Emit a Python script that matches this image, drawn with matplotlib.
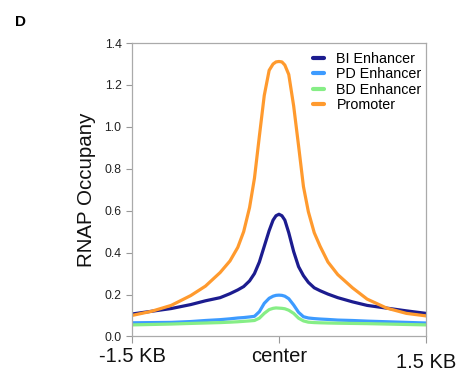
import matplotlib
matplotlib.use("Agg")
import matplotlib.pyplot as plt
from matplotlib.transforms import blended_transform_factory

plt.rcParams['font.family'] = ['Liberation Sans', 'DejaVu Sans']

# positions relative to center (kb)
x_kb = [-1.5, -1.3, -1.1, -0.9, -0.75, -0.6, -0.5, -0.42, -0.36, -0.3, -0.25, -0.2, -0.15, -0.1, -0.06, -0.03,
        0.0, 0.03, 0.06, 0.1, 0.15, 0.2, 0.25, 0.3, 0.36, 0.42, 0.5, 0.6, 0.75, 0.9, 1.1, 1.3, 1.5]

bi_enhancer = [0.107, 0.12, 0.133, 0.152, 0.17, 0.185, 0.204, 0.222, 0.238, 0.265, 0.30, 0.355, 0.43, 0.505, 0.555, 0.576,
               0.583, 0.576, 0.555, 0.495, 0.405, 0.333, 0.29, 0.258, 0.232, 0.218, 0.202, 0.185, 0.165, 0.148, 0.135, 0.122, 0.11]
pd_enhancer = [0.065, 0.066, 0.067, 0.071, 0.076, 0.08, 0.084, 0.088, 0.09, 0.093, 0.096, 0.118, 0.158, 0.182, 0.192, 0.196,
               0.197, 0.196, 0.192, 0.18, 0.15, 0.115, 0.094, 0.088, 0.085, 0.083, 0.081, 0.078, 0.076, 0.073, 0.07, 0.067, 0.064]
bd_enhancer = [0.055, 0.057, 0.059, 0.062, 0.064, 0.066, 0.068, 0.07, 0.072, 0.074, 0.076, 0.087, 0.11, 0.128, 0.134, 0.136,
               0.135, 0.134, 0.132, 0.125, 0.11, 0.087, 0.074, 0.068, 0.066, 0.065, 0.064, 0.063, 0.062, 0.061, 0.059, 0.057, 0.055]
promoter = [0.10, 0.12, 0.148, 0.195, 0.24, 0.305, 0.36, 0.425, 0.50, 0.615, 0.755, 0.955, 1.15, 1.27, 1.30, 1.31,
            1.312, 1.31, 1.295, 1.25, 1.10, 0.91, 0.715, 0.595, 0.495, 0.43, 0.355, 0.295, 0.232, 0.178, 0.135, 0.11, 0.098]

series_names = ["BI Enhancer", "PD Enhancer", "BD Enhancer", "Promoter"]
series_colors = ["#1c1c8f", "#3d9bff", "#86ee86", "#ff9a2e"]

xtick_pos = [-1.5, 0.0, 1.5]
xtick_labels = ["-1.5 KB", "center", "1.5 KB"]
ytick_vals = [0.0, 0.2, 0.4, 0.6, 0.8, 1.0, 1.2, 1.4]

fig = plt.figure(figsize=(4.63, 3.81), dpi=100)
ax = fig.add_axes([0.285, 0.117, 0.635, 0.770])

for name, vals, col in zip(series_names, [bi_enhancer, pd_enhancer, bd_enhancer, promoter], series_colors):
    ax.plot(x_kb, vals, color=col, lw=2.3, label=name, solid_capstyle='round', solid_joinstyle='round')

ax.set_xlim(-1.5, 1.5)
ax.set_ylim(0, 1.4)
ax.set_yticks(ytick_vals)
ax.set_yticklabels([f"{v:.1f}" for v in ytick_vals], fontsize=8.8, color="#222222")
ax.set_xticks(xtick_pos)
ax.set_xticklabels([])
ax.tick_params(axis='both', direction='out', length=4, color='#999999', width=0.8)
ax.tick_params(axis='x', length=5)
for s in ax.spines.values():
    s.set_color('#aaaaaa')
    s.set_linewidth(0.9)

trans = blended_transform_factory(ax.transData, fig.transFigure)
label_y = [357, 357, 362]
for xp, lab, yp in zip(xtick_pos, xtick_labels, label_y):
    ax.text(xp, 1 - yp / 381, lab, transform=trans, ha='center', va='center', fontsize=14.5, color='#111111')

ax.set_ylabel("RNAP Occupany", fontsize=14.8, labelpad=6, color='#111111')

leg = ax.legend(loc='upper right', bbox_to_anchor=(1.0, 0.985), frameon=False, fontsize=10.3,
                handlelength=0.75, handletextpad=0.9, labelspacing=0.1, borderaxespad=0.1,
                borderpad=0.2)
for h in leg.get_lines():
    h.set_linewidth(3)

fig.text(15 / 463, 1 - 22 / 381, "D", fontsize=11, fontweight='bold', ha='left', va='center')

fig.savefig("out.png", dpi=100)
